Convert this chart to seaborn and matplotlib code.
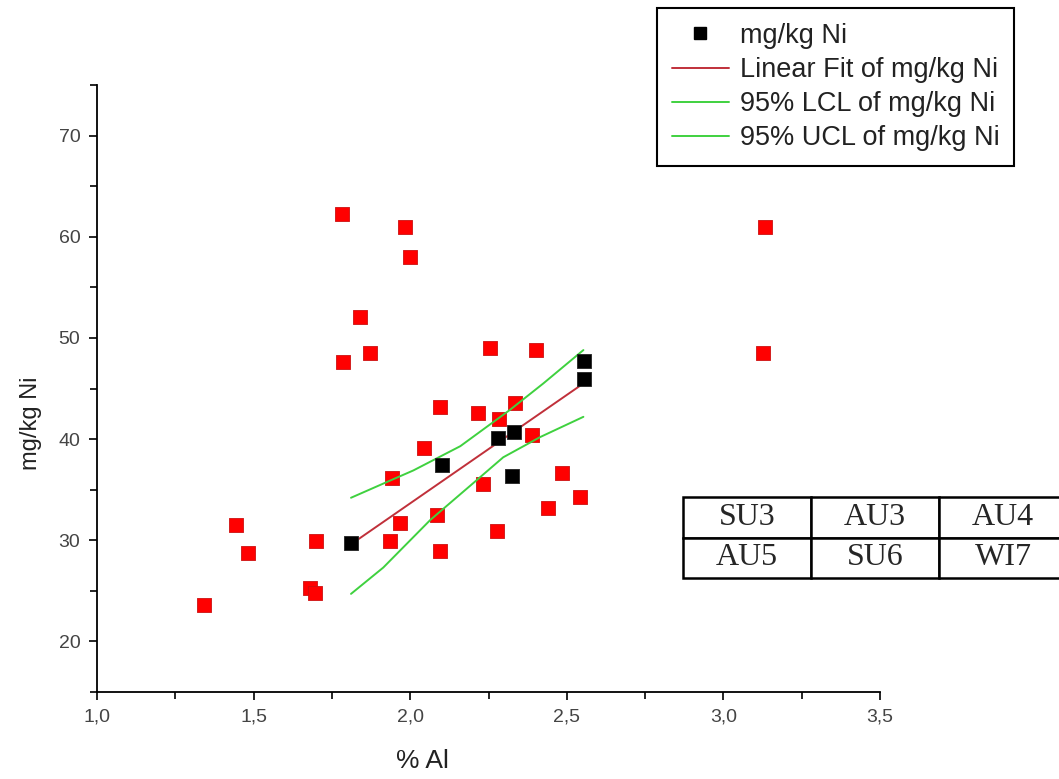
import numpy as np
import pandas as pd
import seaborn as sns
import matplotlib.pyplot as plt
from matplotlib.lines import Line2D
from matplotlib.ticker import MultipleLocator, FuncFormatter

# red squares (all other samples)
other_al = [1.783, 1.984, 2.000, 1.840, 1.872, 1.786, 2.256, 2.403, 3.134, 3.128,
            2.096, 2.217, 2.284, 2.335, 2.045, 2.390, 1.942, 2.233, 2.486, 2.441,
            2.543, 2.086, 1.968, 1.936, 2.096, 2.278, 1.444, 1.482, 1.700, 1.680,
            1.696, 1.342]
other_ni = [62.2, 61.0, 58.0, 52.1, 48.5, 47.6, 49.0, 48.8, 61.0, 48.5,
            43.2, 42.6, 42.0, 43.6, 39.1, 40.4, 36.2, 35.6, 36.6, 33.2,
            34.3, 32.5, 31.7, 29.9, 28.9, 30.9, 31.5, 28.7, 29.9, 25.3,
            24.8, 23.6]

# black squares (fitted samples)
fit_al = [1.812, 2.100, 2.281, 2.332, 2.326, 2.556, 2.556]
fit_ni = [29.7, 37.4, 40.1, 40.7, 36.4, 47.7, 45.9]

# linear fit and 95% confidence limits
line_al = [1.811, 2.553]
line_ni = [29.6, 45.5]
ucl_al = [1.811, 1.936, 2.010, 2.160, 2.319, 2.425, 2.553]
ucl_ni = [34.2, 35.9, 36.9, 39.3, 42.9, 45.5, 48.8]
lcl_al = [1.811, 1.914, 2.064, 2.192, 2.297, 2.415, 2.553]
lcl_ni = [24.7, 27.3, 32.0, 35.4, 38.2, 40.2, 42.2]

table_cells = [["SU3", "AU3", "AU4"], ["AU5", "SU6", "WI7"]]

legend_labels = ["mg/kg Ni", "Linear Fit of mg/kg Ni",
                 "95% LCL of mg/kg Ni", "95% UCL of mg/kg Ni"]

sns.set_style("ticks")
plt.rcParams['font.family'] = ['Liberation Sans', 'DejaVu Sans']

W, H = 1059, 779
fig = plt.figure(figsize=(W / 100, H / 100), dpi=100)
ax = fig.add_axes([97 / W, 1 - 692 / H, (880 - 97) / W, (692 - 85) / H])

red_c = '#ff0000'
fit_c = '#c0303a'
grn_c = '#3fd13f'

sns.scatterplot(x=other_al, y=other_ni, ax=ax, marker='s', s=110,
                color=red_c, edgecolor='#cc1010', linewidth=0.6, zorder=3)
sns.lineplot(x=lcl_al, y=lcl_ni, ax=ax, color=grn_c, lw=1.4, zorder=4)
sns.lineplot(x=ucl_al, y=ucl_ni, ax=ax, color=grn_c, lw=1.4, zorder=4)
sns.lineplot(x=line_al, y=line_ni, ax=ax, color=fit_c, lw=1.4, zorder=4)
sns.scatterplot(x=fit_al, y=fit_ni, ax=ax, marker='s', s=110,
                color='black', edgecolor='#222222', linewidth=0.6, zorder=5)

ax.set_xlim(1.0, 3.5)
ax.set_ylim(15, 75)
ax.xaxis.set_major_locator(MultipleLocator(0.5))
ax.xaxis.set_minor_locator(MultipleLocator(0.25))
ax.yaxis.set_major_locator(MultipleLocator(10))
ax.yaxis.set_minor_locator(MultipleLocator(5))
ax.xaxis.set_major_formatter(FuncFormatter(lambda v, p: f"{v:.1f}".replace('.', ',')))
ax.yaxis.set_major_formatter(FuncFormatter(lambda v, p: f"{v:.0f}"))
ax.yaxis.set_ticks([20, 30, 40, 50, 60, 70])
ax.tick_params(which='major', direction='out', length=6, width=1.2,
               labelsize=14, labelcolor='#444444', color='black', pad=6)
ax.tick_params(which='minor', direction='out', length=5, width=1.2, color='black')
for s in ['top', 'right']:
    ax.spines[s].set_visible(False)
for s in ['left', 'bottom']:
    ax.spines[s].set_linewidth(1.3)
    ax.spines[s].set_color('black')

ax.set_xlabel("% Al", fontsize=19, color='#222222')
ax.set_ylabel("mg/kg Ni", fontsize=17, color='#222222')
ax.xaxis.set_label_coords(0.415, -0.094)
ax.yaxis.set_label_coords(-0.07, 0.443)

handles = [Line2D([], [], marker='s', color='black', ls='none', markersize=9),
           Line2D([], [], color=fit_c, lw=1.4),
           Line2D([], [], color=grn_c, lw=1.4),
           Line2D([], [], color=grn_c, lw=1.4)]
leg = fig.legend(handles, legend_labels, loc='upper left',
                 bbox_to_anchor=(657 / W, 1 - 8 / H), fontsize=19.5,
                 frameon=True, fancybox=False, framealpha=1, edgecolor='black',
                 handlelength=2.1, handletextpad=0.4, labelspacing=0.3,
                 borderpad=0.55, borderaxespad=0)
leg.get_frame().set_linewidth(1.5)
for t in leg.get_texts():
    t.set_color('#222222')

tab = ax.table(cellText=table_cells, cellLoc='center',
               bbox=[(683 - 97) / 783, (692 - 578) / 607, 384 / 783, 81 / 607])
tab.auto_set_font_size(False)
for (r, c), cell in tab.get_celld().items():
    cell.set_linewidth(1.8)
    cell.set_edgecolor('black')
    cell.set_facecolor('white')
    cell.get_text().set_fontsize(23)
    cell.get_text().set_fontfamily('Liberation Serif')
tab.set_clip_on(False)
tab.set_zorder(6)

fig.savefig('out.png', dpi=100)
